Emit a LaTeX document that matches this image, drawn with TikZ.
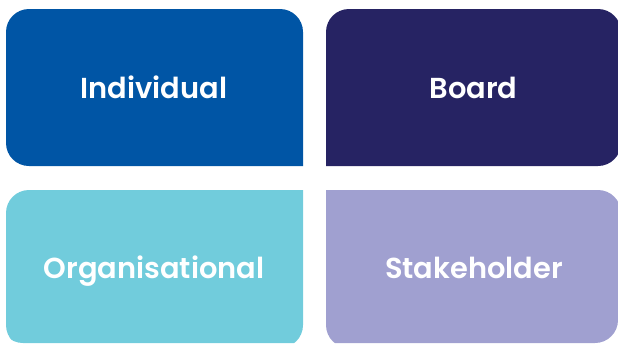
\documentclass[tikz,border=0pt]{standalone}
\usepackage{fontspec}
\setmainfont{Poppins}[BoldFont={* SemiBold}]
\definecolor{KVindividual}{HTML}{0055A5}
\definecolor{KVboard}{HTML}{262363}
\definecolor{KVorganisation}{HTML}{71CCDC}
\definecolor{KVstakeholder}{HTML}{A0A0D0}

\begin{document}
\begin{tikzpicture}[x=1bp,y=-1bp,rounded corners=23bp,
 KVlabel/.style={font=\fontsize{29}{34}\selectfont\bfseries,text=white,inner sep=0pt,anchor=base}]
\useasboundingbox (0,0) rectangle (618,343);
\clip (0,0) rectangle (618,343);
% each tile keeps its corner next to the centre sharp
\fill[KVindividual] (303,166) -- (6,166) -- (6,9) -- (303,9) -- (303,166);
\fill[KVboard] (326,166) -- (326,9) -- (621,9) -- (621,166) -- (326,166);
\fill[KVorganisation] (303,190) -- (303,348) -- (6,348) -- (6,190) -- (303,190);
\fill[KVstakeholder] (326,190) -- (621,190) -- (621,348) -- (326,348) -- (326,190);
\foreach \x/\y/\nm/\lab in {154/98/indiv/Individual,473.5/98/board/Board,
 154/278/org/Organisational,474/278/stake/Stakeholder}{
 \node[KVlabel] (\nm) at (\x,\y) {\lab};}
\end{tikzpicture}
\end{document}
